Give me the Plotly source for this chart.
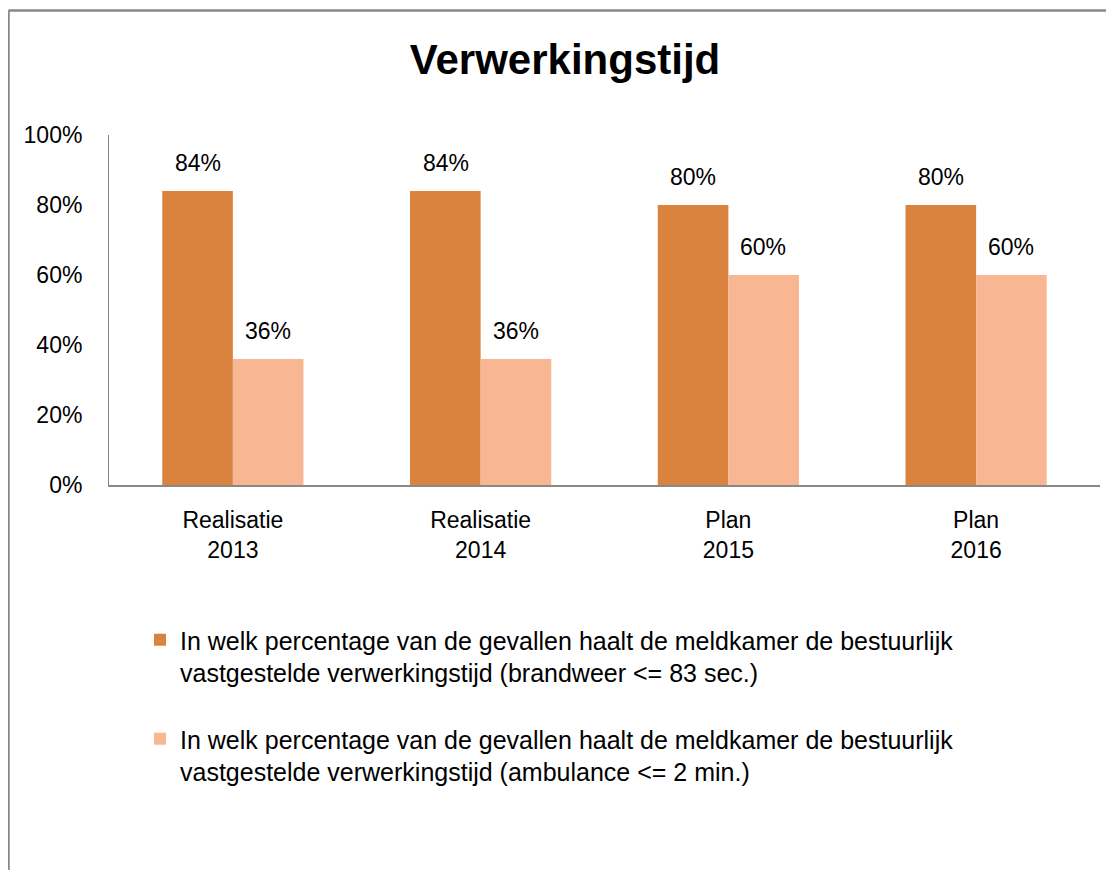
import plotly.graph_objects as go

categories = ["Realisatie<br>2013", "Realisatie<br>2014", "Plan<br>2015", "Plan<br>2016"]
brandweer = [0.84, 0.84, 0.80, 0.80]
ambulance = [0.36, 0.36, 0.60, 0.60]
series_names = [
    "In welk percentage van de gevallen haalt de meldkamer de bestuurlijk<br>vastgestelde verwerkingstijd (brandweer <= 83 sec.)",
    "In welk percentage van de gevallen haalt de meldkamer de bestuurlijk<br>vastgestelde verwerkingstijd (ambulance <= 2 min.)",
]
colors = ["#DA833F", "#F9B692"]
y_ticks = [0, 0.2, 0.4, 0.6, 0.8, 1.0]
y_ticklabels = ["0%", "20%", "40%", "60%", "80%", "100%"]

W, H = 1114, 870
FONT = "Liberation Sans, Arial, sans-serif"

fig = go.Figure()
for i, (vals, name) in enumerate(zip([brandweer, ambulance], series_names)):
    fig.add_trace(go.Bar(
        x=categories, y=vals, name=name, marker_color=colors[i],
        marker_line_width=0, legendgroup=f"g{i}",
    ))

# data labels
for i, vals in enumerate([brandweer, ambulance]):
    shift = -35 if i == 0 else 35
    for c, v in zip(categories, vals):
        fig.add_annotation(x=c, y=v, text=f"{round(v*100)}%", showarrow=False,
                           xshift=shift, yshift=13, yanchor="bottom",
                           font=dict(family=FONT, size=23, color="#000"))

# plot area in figure pixels
px_l, px_r, px_t, px_b = 101, 1092, 127, 477

fig.update_layout(
    width=W, height=H,
    margin=dict(l=0, r=0, t=0, b=0, autoexpand=False),
    paper_bgcolor="white", plot_bgcolor="white",
    barmode="group", bargap=0.43, bargroupgap=0,
    font=dict(family=FONT, size=23, color="#000"),
    title=dict(text="<b>Verwerkingstijd</b>", x=557 / W, xanchor="center",
               y=1 - 51 / H, yanchor="middle", yref="container",
               font=dict(family=FONT, size=42, color="#000")),
    xaxis=dict(domain=[px_l / W, px_r / W], showgrid=False, showline=True,
               linecolor="#888888", linewidth=2, ticks="", tickfont=dict(size=23),
               ticklabelstandoff=13, automargin=False),
    yaxis=dict(domain=[1 - px_b / H, 1 - px_t / H], range=[0, 1.0], showgrid=False,
               showline=True, linecolor="#888888", linewidth=1,
               tickvals=y_ticks, ticktext=y_ticklabels, ticks="",
               tickfont=dict(size=23), ticklabelstandoff=21, zeroline=False,
               automargin=False),
    showlegend=True,
    legend=dict(x=132 / W, xanchor="left", y=1 - 609 / H, yanchor="top",
                orientation="v", valign="top", traceorder="grouped",
                tracegroupgap=31, itemwidth=30,
                font=dict(family=FONT, size=25, color="#000"),
                bgcolor="rgba(0,0,0,0)"),
)

# chart border (top and left visible)
fig.add_shape(type="line", xref="paper", yref="paper", x0=0.5 / W, x1=1.0,
              y0=1 - 2.5 / H, y1=1 - 2.5 / H, line=dict(color="#888888", width=2.5))
fig.add_shape(type="line", xref="paper", yref="paper", x0=0.5 / W, x1=0.5 / W,
              y0=0, y1=1 - 2.5 / H, line=dict(color="#888888", width=2.5))

fig.write_html("out.html")
